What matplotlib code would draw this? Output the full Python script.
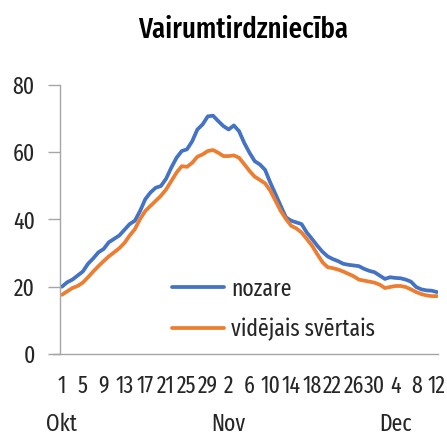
import matplotlib
matplotlib.use("Agg")
import matplotlib.pyplot as plt

plt.rcParams['font.family'] = ['Fira Sans Extra Condensed', 'DejaVu Sans']

# dienas indeksi no 1. oktobra līdz 12. decembrim
nozare = [20.0, 21.3, 22.1, 23.3, 24.5, 26.8, 28.4, 30.2, 31.2, 33.2,
          34.2, 35.2, 36.9, 38.6, 39.6, 42.5, 46.0, 48.0, 49.4, 49.9,
          52.1, 55.4, 58.3, 60.3, 60.8, 63.2, 66.7, 68.2, 70.6, 70.8,
          69.2, 67.7, 66.7, 67.9, 66.2, 62.7, 59.8, 57.3, 56.3, 54.7,
          50.9, 47.5, 44.0, 40.6, 39.6, 39.1, 38.6, 36.1, 34.2, 32.2,
          30.4, 29.0, 28.2, 27.6, 26.8, 26.5, 26.3, 26.1, 25.3, 24.7,
          24.3, 23.3, 22.3, 22.8, 22.6, 22.5, 22.1, 21.5, 19.9, 19.2,
          18.9, 18.8, 18.4]
videjais = [17.6, 18.6, 19.6, 20.2, 21.2, 22.8, 24.5, 26.1, 27.6, 29.0,
            30.2, 31.4, 33.0, 35.2, 37.1, 40.1, 42.5, 44.0, 45.5, 47.0,
            48.9, 51.4, 53.9, 55.8, 55.6, 56.8, 58.6, 59.3, 60.3, 60.6,
            59.8, 58.8, 58.8, 59.0, 58.3, 56.4, 54.4, 52.7, 51.7, 50.7,
            48.5, 45.5, 42.5, 40.1, 38.1, 37.3, 36.1, 34.2, 32.2, 29.7,
            27.3, 25.8, 25.5, 25.1, 24.5, 23.8, 23.1, 22.1, 21.8, 21.5,
            21.2, 20.6, 19.6, 19.9, 20.2, 20.2, 19.9, 19.2, 18.4, 17.8,
            17.4, 17.2, 17.2]
dienas = list(range(1, 32)) + list(range(1, 31)) + list(range(1, 13))
menesi = ['Okt', 'Nov', 'Dec']
menesu_poz = [0, 32, 64]

x = list(range(len(nozare)))
txt = '#262626'
ass = '#a6a6a6'
fs = 17

fig = plt.figure(figsize=(4.47, 4.36), dpi=100)
ax = fig.add_axes([0.1342, 0.1881, 0.8456, 0.6176])

ax.plot(x, nozare, color='#4472c4', lw=2.7, label='nozare', solid_capstyle='round')
ax.plot(x, videjais, color='#ed7d31', lw=2.7, label='vidējais svērtais', solid_capstyle='round')

ax.set_xlim(-0.38, 72.19)
ax.set_ylim(0, 80)
ax.set_yticks([0, 20, 40, 60, 80])

ticks = x[::4]
ax.set_xticks(ticks)
ax.set_xticklabels([str(dienas[i]) for i in ticks])
ax.tick_params(axis='x', length=0, pad=15, labelsize=fs, labelcolor=txt)
ax.tick_params(axis='y', length=9, width=1, color=ass, pad=9, labelsize=fs, labelcolor=txt)

for s in ['top', 'right']:
    ax.spines[s].set_visible(False)
for s in ['left', 'bottom']:
    ax.spines[s].set_color(ass)
    ax.spines[s].set_linewidth(1)
ax.spines['bottom'].set_bounds(-1.7, 72.19)
ax.spines['bottom'].set_clip_on(False)

for m, p in zip(menesi, menesu_poz):
    ax.text(p, -0.26, m, transform=ax.get_xaxis_transform(), ha='center', va='center',
            fontsize=fs, color=txt)

fig.text(0.544, 0.9128, 'Vairumtirdzniecība', ha='center', va='baseline',
         fontsize=21, fontweight='medium', color='black')

ax.legend(loc='upper left', bbox_to_anchor=(0.296, 0.285), frameon=False, fontsize=fs,
          handlelength=2.2, handletextpad=0.3, labelspacing=0.75, borderpad=0,
          borderaxespad=0, labelcolor=txt)

fig.savefig('out.png', dpi=100)
